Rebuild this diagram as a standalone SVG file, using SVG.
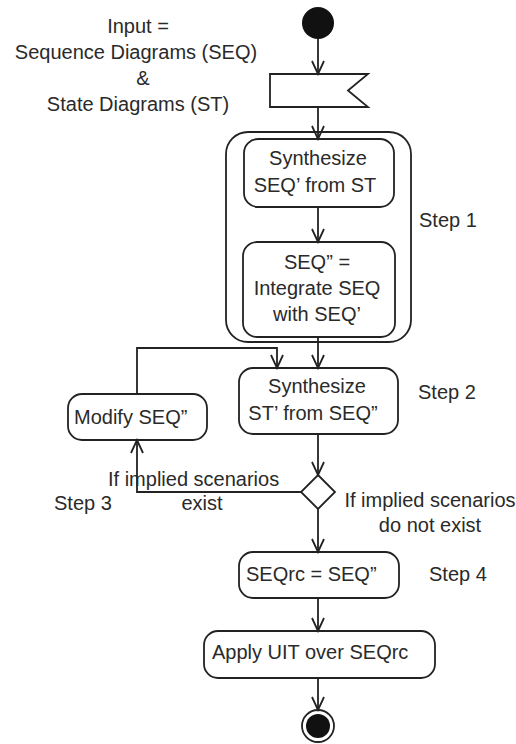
<svg xmlns="http://www.w3.org/2000/svg" width="516" height="744" viewBox="0 0 516 744">
  <style>
    text { font-family: "Liberation Sans", Arial, sans-serif; font-size: 20px; fill: #2a2a2a; }
    .mid { text-anchor: middle; }
    .box { fill: #fff; stroke: #222; stroke-width: 1.8; }
    .edge { fill: none; stroke: #222; stroke-width: 1.8; }
  </style>
  <defs>
    <marker id="open" markerUnits="userSpaceOnUse" markerWidth="16" markerHeight="16" viewBox="-14 -8 16 16" refX="0" refY="0" orient="auto">
      <path d="M-13,-6 L0,0 L-13,6" fill="none" stroke="#222" stroke-width="1.8"/>
    </marker>
  </defs>

  <rect width="516" height="744" fill="#fff"/>

  <!-- input note -->
  <g id="input-note">
    <text class="mid" x="138" y="33">Input =</text>
    <text class="mid" x="136" y="59">Sequence Diagrams (SEQ)</text>
    <text class="mid" x="143" y="85">&amp;</text>
    <text class="mid" x="138" y="111">State Diagrams (ST)</text>
  </g>

  <!-- step 1 composite -->
  <g id="step1">
    <rect class="box" x="226" y="132" width="185" height="210" rx="22"/>
    <text x="419" y="227">Step 1</text>
  </g>

  <g id="start">
    <circle cx="318" cy="23" r="16" fill="#111"/>
  </g>

  <g id="input-signal">
    <path class="box" d="M270,74 H368 L348,90.5 L368,107 H270 Z"/>
  </g>

  <g id="synth-seq">
    <rect class="box" x="244" y="139" width="150" height="68" rx="14"/>
    <text class="mid" x="318" y="165">Synthesize</text>
    <text class="mid" x="315" y="192">SEQ’ from ST</text>
  </g>

  <g id="integrate">
    <rect class="box" x="243" y="242" width="152" height="95" rx="14"/>
    <text class="mid" x="317" y="269">SEQ” =</text>
    <text class="mid" x="317" y="295">Integrate SEQ</text>
    <text class="mid" x="317" y="321">with SEQ’</text>
  </g>

  <g id="synth-st">
    <rect class="box" x="239" y="368" width="159" height="66" rx="14"/>
    <text class="mid" x="317" y="393">Synthesize</text>
    <text class="mid" x="313" y="420">ST’ from SEQ”</text>
    <text x="418" y="399">Step 2</text>
  </g>

  <g id="modify">
    <rect class="box" x="68" y="394" width="139" height="46" rx="14"/>
    <text x="74" y="424">Modify SEQ”</text>
  </g>

  <g id="decision">
    <path class="box" d="M318,475 L335,492 L318,509 L301,492 Z"/>
  </g>

  <g id="seqrc">
    <rect class="box" x="239" y="552" width="160" height="46" rx="14"/>
    <text x="246" y="581">SEQrc = SEQ”</text>
    <text x="429" y="581">Step 4</text>
  </g>

  <g id="apply-uit">
    <rect class="box" x="204" y="631" width="231" height="47" rx="14"/>
    <text x="212" y="659">Apply UIT over SEQrc</text>
  </g>

  <g id="end">
    <circle cx="318" cy="726" r="16" fill="#fff" stroke="#222" stroke-width="1.8"/>
    <circle cx="318" cy="726" r="12" fill="#111"/>
  </g>

  <!-- connectors -->
  <g id="connectors">
    <path class="edge" d="M318,39 V74" marker-end="url(#open)"/>
    <path class="edge" d="M318,107 V139" marker-end="url(#open)"/>
    <path class="edge" d="M318,207 V242" marker-end="url(#open)"/>
    <path class="edge" d="M318,337 V368" marker-end="url(#open)"/>
    <path class="edge" d="M137,394 V348 H277 V368" marker-end="url(#open)"/>
    <path class="edge" d="M318,434 V475" marker-end="url(#open)"/>
    <path class="edge" d="M301,492 H137 V440" marker-end="url(#open)"/>
    <path class="edge" d="M318,509 V552" marker-end="url(#open)"/>
    <path class="edge" d="M318,598 V631" marker-end="url(#open)"/>
    <path class="edge" d="M318,678 V710" marker-end="url(#open)"/>
  </g>

  <!-- guard labels -->
  <g id="guards">
    <text x="108" y="486">If implied scenarios</text>
    <text class="mid" x="202" y="510">exist</text>
    <text x="54" y="510">Step 3</text>
    <text class="mid" x="430" y="507">If implied scenarios</text>
    <text class="mid" x="430" y="532">do not exist</text>
  </g>
</svg>
